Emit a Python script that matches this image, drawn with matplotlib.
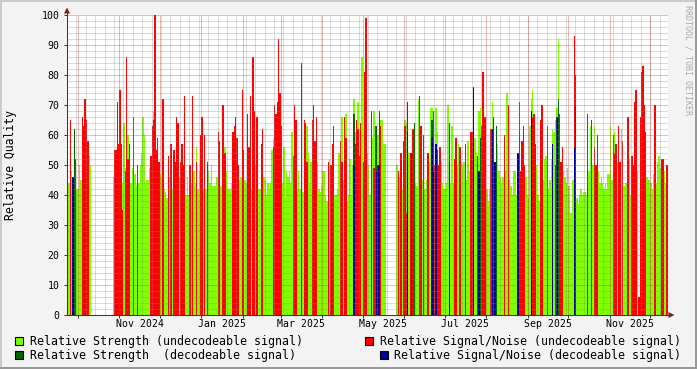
import numpy as np
import matplotlib.pyplot as plt
from matplotlib.patches import Rectangle, Polygon
from matplotlib.lines import Line2D
from matplotlib.transforms import offset_copy
from datetime import date

W, H = 697, 369
start = date(2024, 9, 23)   # first day on the x axis
span_days = 447.2           # width of the time axis in days
N = None

# daily values, day 0 = 2024-09-23
strength_undec = [
    44, 44, 44, 48, 44, 55, 50, 42, 42, 50,
    45, 45, 45, 45, 45, 45, 53, 50, N, N,
    N, N, N, N, N, N, N, N, N, N,
    N, N, N, N, 46, 50, 50, 48, 48, N,
    N, 44, 64, 49, N, 60, 45, 44, 49, 44,
    47, 43, 43, 44, 50, 54, 66, 60, 44, 45,
    45, 49, 45, 45, 68, 63, 45, 45, 45, 47,
    46, 45, 42, 41, 39, 41, 46, 44, 42, 44,
    44, 44, 46, 46, 44, 54, 44, 44, 40, 46,
    40, 44, 44, 44, 48, 44, 56, 42, 48, 48,
    44, 42, 44, 42, 44, 48, 44, 50, 43, 43,
    43, 46, 44, 44, 43, 44, 44, 56, 48, 42,
    42, 42, 44, 44, 44, 44, 44, 50, 45, 46,
    44, 44, 45, 44, 44, 44, 44, 42, 44, 44,
    50, 44, 42, 42, 46, 44, 46, 45, 40, 44,
    42, 44, 55, 59, 44, 44, N, N, N, N,
    44, 56, 39, 48, 46, 48, 44, 61, 44, 44,
    44, 42, 48, 42, 42, 41, 44, 44, 63, 54,
    44, 51, 44, 44, 44, 62, 51, 42, 41, 43,
    48, 48, 40, 38, 38, 52, 40, 40, 53, 40,
    40, 42, 54, 40, 66, 45, 40, 67, 38, 40,
    52, 40, 50, 72, 61, 44, 71, 44, 44, 86,
    44, 44, 44, 54, 50, 40, 44, 59, 68, 46,
    46, 60, 46, 65, 65, 57, 57, N, N, N,
    N, N, N, N, N, 50, 44, 46, 44, 42,
    44, 65, 64, N, 54, 44, 44, 57, 50, 44,
    43, 72, 44, 44, 45, 45, 42, 45, 45, 51,
    69, 69, 50, 50, 69, 61, 44, 44, 51, 44,
    42, 42, 44, 70, 44, 44, 63, 44, 50, 44,
    50, 57, 44, 51, 50, 51, 44, 45, 58, 48,
    44, 48, 50, 59, 54, 44, 68, 69, 44, 44,
    44, 44, 42, 38, 42, 44, 71, 44, 44, 44,
    57, 48, 46, 44, 46, 44, 48, 74, 44, 45,
    43, 40, 48, 48, 40, 44, 44, 44, 44, 44,
    44, 46, 40, 39, 63, 72, 75, 44, 44, 50,
    40, 38, 40, 44, 45, 52, 53, 44, 42, 45,
    52, 62, 61, 65, 69, 92, 44, 44, 44, 48,
    46, 44, 49, 43, 34, 34, 45, 44, 52, 39,
    37, 40, 42, 40, 41, 41, 40, 44, 48, 63,
    44, 50, 63, 44, 44, 48, 44, 46, 44, 42,
    44, 42, 47, 47, 63, 45, 45, 61, 44, 51,
    44, 44, 62, 44, 43, 44, 44, 44, 52, 40,
    44, 44, 44, 44, 48, N, N, N, N, N,
    N, 46, 45, 45, 44, 42, 47, 44, 44, 51,
    53, 49, 44, 44, 48, 44, 44]

snr_undec = [
    67, N, 65, N, N, N, 52, N, N, N,
    N, 66, 63, 72, 65, 58, N, N, N, N,
    N, N, N, N, N, N, N, N, N, N,
    N, N, N, N, N, 55, 55, 71, 57, 75,
    57, 35, N, 48, 86, 52, 57, N, N, 66,
    N, N, 50, N, N, N, N, N, N, N,
    N, N, 53, 63, 65, 100, 55, 59, 51, N,
    N, 72, N, N, N, 53, N, 57, N, 55,
    51, 66, 64, N, 51, 57, 50, 73, N, N,
    N, 50, N, 73, N, N, 51, N, N, 60,
    66, N, 60, N, 51, N, N, N, N, N,
    N, N, 61, 58, N, 70, 70, 54, N, N,
    N, N, N, 61, 63, 66, 59, 50, N, N,
    75, 55, N, N, 67, 56, 73, N, 86, 68,
    N, 66, N, N, 57, 62, N, N, N, N,
    N, N, N, 56, 70, 67, 71, 92, 74, 63,
    N, N, N, N, N, N, N, N, 53, 70,
    65, N, N, N, 84, N, 65, 64, 51, N,
    N, N, 65, 70, 58, 66, N, N, N, N,
    N, N, N, N, 51, N, 50, 57, 63, N,
    N, N, N, 58, 51, N, 66, 59, N, N,
    N, N, N, N, 57, 65, 62, 53, 64, N,
    51, 81, 99, N, N, N, 68, N, 49, 63,
    N, N, N, 63, N, N, N, N, N, N,
    N, N, N, N, N, N, 48, N, 54, N,
    58, 63, 34, N, N, 54, N, 62, N, N,
    N, N, 73, 63, N, 60, N, N, 54, N,
    N, N, 68, 50, N, 55, 50, 56, N, N,
    N, N, N, N, N, N, N, N, 52, 59,
    N, N, 56, N, N, N, 57, N, N, N,
    61, 61, N, N, N, 53, N, N, 63, 81,
    66, 66, N, N, N, 62, N, N, N, 53,
    N, N, N, N, N, 60, N, N, 70, N,
    N, N, N, N, N, N, 71, 48, 58, 63,
    50, N, N, N, N, N, 66, 67, 57, N,
    N, N, 65, 70, N, N, N, 63, N, N,
    N, N, N, 50, N, N, 67, 51, 56, N,
    N, N, N, N, N, N, N, 93, 71, N,
    N, N, N, N, N, N, N, 67, N, N,
    65, N, 56, 50, 60, N, N, N, N, N,
    N, N, N, N, N, N, 60, 54, 57, N,
    63, 51, N, 58, N, N, N, 66, N, N,
    53, 50, 71, 75, N, 6, 66, 81, 83, 70,
    61, N, N, N, N, N, N, 70, N, N,
    N, N, 52, 52, N, N, 50]

dec_strength_days = [5, 213, 230, 232, 253, 258, 271, 284, 307, 317, 319, 336, 365, 378]
dec_strength = [62, 67, 63, 68, 71, 64, 65, 64, 59, 66, 63, 61, 72, 80]
dec_snr_days = [4, 213, 230, 231, 232, 253, 256, 271, 272, 274, 284, 302, 306, 316, 318,
                335, 345, 361, 364, 377, 378]
dec_snr = [46, 50, 48, 50, 50, 61, 54, 59, 48, 57, 51, 76, 48, 62, 51, 54, 68, 57, 66, 56, 70]

labels = ['Relative Strength (undecodeable signal)',
          'Relative Signal/Noise (undecodeable signal)',
          'Relative Strength  (decodeable signal)',
          'Relative Signal/Noise (decodeable signal)']
colors = ['#7fff00', '#ff0000', '#006400', '#000096']

MONO = 'DejaVu Sans Mono'
axis_c = '#2c3e48'
arrow_c = '#7f1f1f'


def fx(x):
    return x / W


def fy(y):
    return 1 - y / H


fig = plt.figure(figsize=(W / 100, H / 100), dpi=100, facecolor='#f3f3f3')
ax = fig.add_axes([fx(67), fy(315), (668 - 67) / W, 300 / H])
ax.set_facecolor('white')
ax.set_xlim(0, span_days)
ax.set_ylim(0, 100)
for s in ax.spines.values():
    s.set_visible(False)

# series, drawn in legend order
g = np.array(strength_undec, dtype=float)
r = np.array(snr_undec, dtype=float)
days = np.arange(len(g))
series = [(days, g), (days, r),
          (np.array(dec_strength_days), np.array(dec_strength, dtype=float)),
          (np.array(dec_snr_days), np.array(dec_snr, dtype=float))]
for i, (d, v) in enumerate(series):
    m = ~np.isnan(v)
    ax.bar(d[m], v[m], width=1.0, align='edge', color=colors[i], linewidth=0,
           antialiased=False, zorder=2 + i)

# grid (drawn over the data like rrdtool), 1px on / 1px off
dots = (0, (1, 1))
grid_kw = dict(lw=0.72, ls=dots)
for v in range(2, 101, 2):
    if v % 10:
        ax.axhline(v, color='#888888', alpha=0.6, zorder=7, **grid_kw)
for d in range(7, int(span_days) + 1, 7):
    ax.axvline(d, color='#888888', alpha=0.6, zorder=7, **grid_kw)

month_starts = []
for yy in (2024, 2025):
    for mm in range(1, 13):
        off = (date(yy, mm, 1) - start).days
        if 0 < off < span_days:
            month_starts.append(off)
for d in month_starts:
    ax.axvline(d, color='#d03838', alpha=0.7, zorder=8, **grid_kw)
for v in range(10, 101, 10):
    ax.axhline(v, color='#d03838', alpha=0.7, zorder=8, **grid_kw)

# ticks
ax.set_xticks(month_starts)
ax.set_yticks(range(0, 101, 10))
ax.tick_params(axis='both', length=2.2, width=0.72, color=axis_c,
               labelbottom=False, labelleft=False)

# y labels
ytr = offset_copy(ax.get_yaxis_transform(), fig=fig, x=-7.5, y=-3.6, units='dots')
for v in range(0, 101, 10):
    ax.text(0, v, str(v), transform=ytr, ha='right', va='baseline',
            family=MONO, fontsize=7.1, color='black')

# x labels, centred on their month
xtr = offset_copy(ax.get_xaxis_transform(), fig=fig, x=0, y=-12.3, units='dots')
for yy, mm, txt in [(2024, 11, 'Nov 2024'), (2025, 1, 'Jan 2025'), (2025, 3, 'Mar 2025'),
                    (2025, 5, 'May 2025'), (2025, 7, 'Jul 2025'), (2025, 9, 'Sep 2025'),
                    (2025, 11, 'Nov 2025')]:
    off = (date(yy, mm, 1) - start).days + 15
    ax.text(off, 0, txt, transform=xtr, ha='center', va='baseline',
            family=MONO, fontsize=7.1, color='black')

# axes lines and arrows
fig.add_artist(Line2D([fx(67), fx(669)], [fy(315), fy(315)], color=axis_c, lw=0.75))
fig.add_artist(Line2D([fx(67), fx(67)], [fy(315), fy(12)], color=axis_c, lw=0.75))
fig.add_artist(Polygon([(fx(64), fy(13.5)), (fx(70), fy(13.5)), (fx(67), fy(7.5))],
                       closed=True, color=arrow_c, lw=0))
fig.add_artist(Polygon([(fx(668.5), fy(312)), (fx(668.5), fy(318)), (fx(674.5), fy(315))],
                       closed=True, color=arrow_c, lw=0))

fig.text(fx(11), fy(165), 'Relative Quality', rotation=90, ha='center', va='center',
         family=MONO, fontsize=8.3)
fig.text(fx(688), fy(60), 'RRDTOOL / TOBI OETIKER', rotation=270, ha='center',
         va='center', family=MONO, fontsize=6, color='#aaaaaa')

# legend
legend_pos = [(15, 341, 30), (365, 341, 380), (15, 355, 30), (379.5, 355, 394)]
for (bx, cy, tx), lab, c in zip(legend_pos, labels, colors):
    fig.add_artist(Rectangle((fx(bx), fy(cy + 4)), 8 / W, 8 / H, facecolor=c,
                             edgecolor='black', lw=0.8))
    fig.text(fx(tx), fy(cy + 4), lab, ha='left', va='baseline', family=MONO, fontsize=8.35)

# frame shading
fig.add_artist(Rectangle((0, fy(2)), 1, 2 / H, color='#cbcbcb', lw=0))
fig.add_artist(Rectangle((0, 0), 2 / W, 1, color='#cbcbcb', lw=0))
fig.add_artist(Rectangle((0, 0), 1, 2 / H, color='#999999', lw=0))
fig.add_artist(Rectangle((fx(695), 0), 2 / W, 1, color='#999999', lw=0))

fig.savefig('out.png', dpi=100, facecolor=fig.get_facecolor())
